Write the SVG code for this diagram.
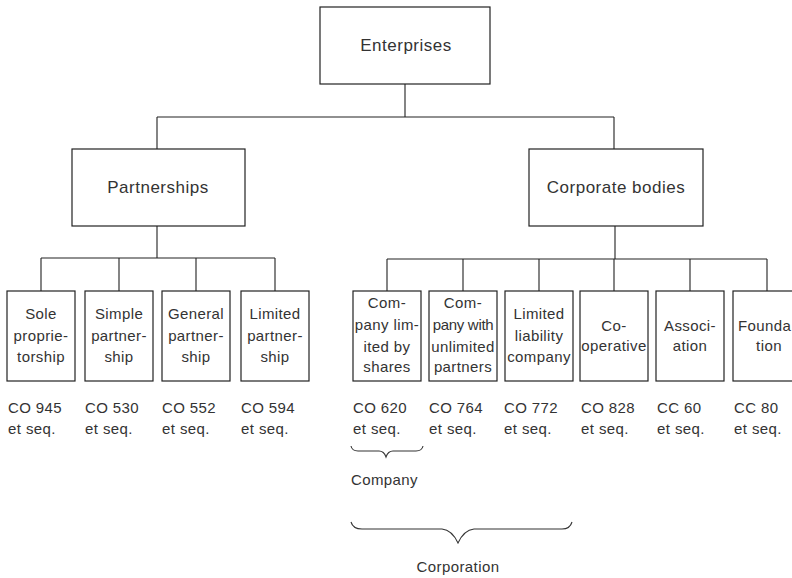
<svg xmlns="http://www.w3.org/2000/svg" width="792" height="578" viewBox="0 0 792 578">
<style>
.box{fill:#fff;stroke:#222;stroke-width:1.2}
.ln{fill:none;stroke:#222;stroke-width:1.1}
.br{fill:none;stroke:#333;stroke-width:1.1}
.t{font-family:"Liberation Sans",Arial,sans-serif;fill:#333;font-size:15px;letter-spacing:0.4px}
.c{text-anchor:middle}
.big{font-size:17px;letter-spacing:0.5px}
</style>
<rect width="792" height="578" fill="#fff"/>
<g id="connectors">
<path class="ln" d="M405,84V117M157,117H614M157,117V149M614,117V149"/>
<path class="ln" d="M157,226V258M41,258H275M41,258V291M119,258V291M196,258V291M275,258V291"/>
<path class="ln" d="M615,226V259M387,259H767M387,259V291M463,259V291M539,259V291M614,259V291M690,259V291M767,259V291"/>
</g>
<g id="enterprises"><rect class="box" x="320" y="7" width="170" height="77"/><text class="t c big" x="406" y="51">Enterprises</text></g>
<g id="partnerships"><rect class="box" x="72" y="149" width="173" height="77"/><text class="t c big" x="158" y="193">Partnerships</text></g>
<g id="corporate-bodies"><rect class="box" x="529" y="149" width="174" height="77"/><text class="t c big" x="616" y="193">Corporate bodies</text></g>

<g id="sole"><rect class="box" x="7" y="291" width="68" height="90"/>
<text class="t c" x="41" y="319">Sole</text><text class="t c" x="41" y="341">proprie-</text><text class="t c" x="41" y="362">torship</text>
<text class="t" x="8" y="413">CO 945</text><text class="t" x="8" y="434">et seq.</text></g>
<g id="simple"><rect class="box" x="85" y="291" width="68" height="90"/>
<text class="t c" x="119" y="319">Simple</text><text class="t c" x="119" y="341">partner-</text><text class="t c" x="119" y="362">ship</text>
<text class="t" x="85" y="413">CO 530</text><text class="t" x="85" y="434">et seq.</text></g>
<g id="general"><rect class="box" x="162" y="291" width="68" height="90"/>
<text class="t c" x="196" y="319">General</text><text class="t c" x="196" y="341">partner-</text><text class="t c" x="196" y="362">ship</text>
<text class="t" x="162" y="413">CO 552</text><text class="t" x="162" y="434">et seq.</text></g>
<g id="limited"><rect class="box" x="241" y="291" width="68" height="90"/>
<text class="t c" x="275" y="319">Limited</text><text class="t c" x="275" y="341">partner-</text><text class="t c" x="275" y="362">ship</text>
<text class="t" x="241" y="413">CO 594</text><text class="t" x="241" y="434">et seq.</text></g>

<g id="company-limited"><rect class="box" x="353" y="291" width="68" height="90"/>
<text class="t c" x="387" y="308">Com-</text><text class="t c" x="387" y="330">pany lim-</text><text class="t c" x="387" y="352">ited by</text><text class="t c" x="387" y="372">shares</text>
<text class="t" x="353" y="413">CO 620</text><text class="t" x="353" y="434">et seq.</text></g>
<g id="company-unlimited"><rect class="box" x="429" y="291" width="68" height="90"/>
<text class="t c" x="463" y="308">Com-</text><text class="t c" x="463" y="330" style="letter-spacing:-0.3px">pany with</text><text class="t c" x="463" y="352">unlimited</text><text class="t c" x="463" y="372">partners</text>
<text class="t" x="429" y="413">CO 764</text><text class="t" x="429" y="434">et seq.</text></g>
<g id="llc"><rect class="box" x="505" y="291" width="68" height="90"/>
<text class="t c" x="539" y="319">Limited</text><text class="t c" x="539" y="341">liability</text><text class="t c" x="539" y="362">company</text>
<text class="t" x="504" y="413">CO 772</text><text class="t" x="504" y="434">et seq.</text></g>
<g id="cooperative"><rect class="box" x="580" y="291" width="68" height="90"/>
<text class="t c" x="614" y="331">Co-</text><text class="t c" x="614" y="351">operative</text>
<text class="t" x="581" y="413">CO 828</text><text class="t" x="581" y="434">et seq.</text></g>
<g id="association"><rect class="box" x="656" y="291" width="68" height="90"/>
<text class="t c" x="690" y="331">Associ-</text><text class="t c" x="690" y="351">ation</text>
<text class="t" x="657" y="413">CC 60</text><text class="t" x="657" y="434">et seq.</text></g>
<g id="foundation"><rect class="box" x="733" y="291" width="68" height="90"/>
<text class="t" x="738" y="331">Founda</text><text class="t c" x="769" y="351">tion</text>
<text class="t" x="734" y="413">CC 80</text><text class="t" x="734" y="434">et seq.</text></g>

<g id="company-brace">
<path class="br" d="M351,446 Q352,451 358,451 L379,451 Q384,451 386,457 Q388,451 393,451 L416,451 Q422,451 423,446"/>
<text class="t" x="351" y="485">Company</text></g>
<g id="corporation-brace">
<path class="br" d="M351,522 Q353,529 362,529 L442,529 Q452,530 458,543 Q464,530 474,529 L562,529 Q570,529 572,522"/>
<text class="t c" x="458" y="572">Corporation</text></g>
</svg>
